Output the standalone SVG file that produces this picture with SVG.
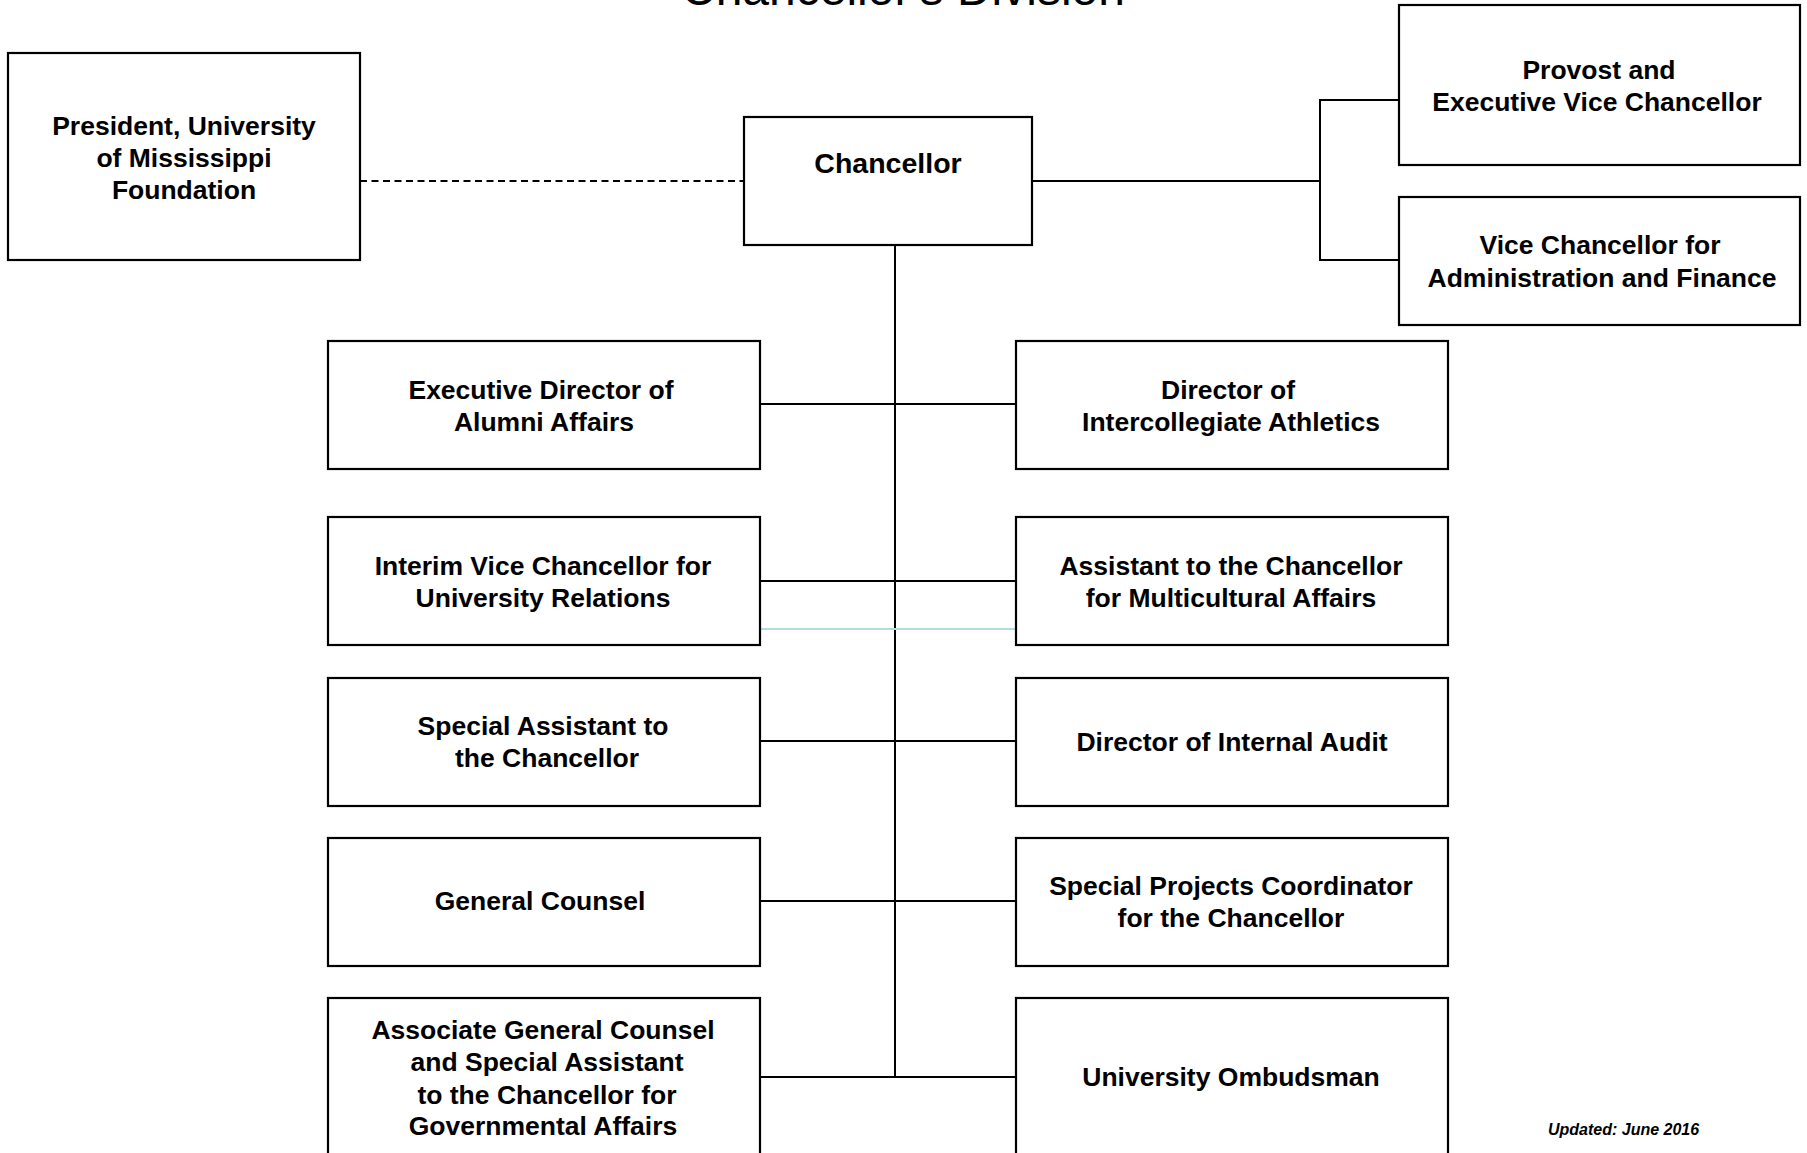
<svg xmlns="http://www.w3.org/2000/svg" width="1807" height="1153" viewBox="0 0 1807 1153">
<style>
.box{fill:#fff;stroke:#000;stroke-width:2.2}
.t{font-family:"Liberation Sans",Arial,sans-serif;font-weight:bold;font-size:26.5px;text-anchor:middle;fill:#000}
.ln{stroke:#000;stroke-width:2;fill:none}
.title{font-family:"Liberation Sans",Arial,sans-serif;font-size:48px;text-anchor:middle;fill:#000}
.upd{font-family:"Liberation Sans",Arial,sans-serif;font-weight:bold;font-style:italic;font-size:16px;fill:#000}
</style>
<rect width="1807" height="1153" fill="#fff"/>
<text class="title" x="903" y="5">Chancellor's Division</text>
<g id="connectors">
<line class="ln" x1="360" y1="181" x2="743" y2="181" stroke-dasharray="7,4.5"/>
<polyline class="ln" points="1031,181 1320,181"/>
<polyline class="ln" points="1399,100 1320,100 1320,260 1399,260"/>
<line class="ln" x1="895" y1="244" x2="895" y2="1077"/>
<line class="ln" x1="759" y1="404" x2="1015" y2="404"/>
<line class="ln" x1="759" y1="581" x2="1015" y2="581"/>
<line x1="760" y1="629" x2="1015" y2="629" stroke="#b4dbe2" stroke-width="2"/>
<line class="ln" x1="759" y1="741" x2="1015" y2="741"/>
<line class="ln" x1="759" y1="901" x2="1015" y2="901"/>
<line class="ln" x1="759" y1="1077" x2="1015" y2="1077"/>
</g>
<g id="president"><rect class="box" x="8" y="53" width="352" height="207"/>
<text class="t" x="184" y="135">President, University</text><text class="t" x="184" y="167">of Mississippi</text><text class="t" x="184" y="199">Foundation</text></g>
<g id="chancellor"><rect class="box" x="744" y="117" width="288" height="128"/>
<text class="t" x="888" y="173" style="font-size:28.5px">Chancellor</text></g>
<g id="provost"><rect class="box" x="1399" y="5" width="401" height="160"/>
<text class="t" x="1599" y="79">Provost and</text><text class="t" x="1597" y="111">Executive Vice Chancellor</text></g>
<g id="vcaf"><rect class="box" x="1399" y="197" width="401" height="128"/>
<text class="t" x="1600" y="254">Vice Chancellor for</text><text class="t" x="1602" y="287">Administration and Finance</text></g>
<g id="alumni"><rect class="box" x="328" y="341" width="432" height="128"/>
<text class="t" x="541" y="399">Executive Director of</text><text class="t" x="544" y="431">Alumni Affairs</text></g>
<g id="athletics"><rect class="box" x="1016" y="341" width="432" height="128"/>
<text class="t" x="1228" y="399">Director of</text><text class="t" x="1231" y="431">Intercollegiate Athletics</text></g>
<g id="univrel"><rect class="box" x="328" y="517" width="432" height="128"/>
<text class="t" x="543" y="575">Interim Vice Chancellor for</text><text class="t" x="543" y="607">University Relations</text></g>
<g id="multicultural"><rect class="box" x="1016" y="517" width="432" height="128"/>
<text class="t" x="1231" y="575">Assistant to the Chancellor</text><text class="t" x="1231" y="607">for Multicultural Affairs</text></g>
<g id="specialasst"><rect class="box" x="328" y="678" width="432" height="128"/>
<text class="t" x="543" y="735">Special Assistant to</text><text class="t" x="547" y="767">the Chancellor</text></g>
<g id="audit"><rect class="box" x="1016" y="678" width="432" height="128"/>
<text class="t" x="1232" y="751">Director of Internal Audit</text></g>
<g id="counsel"><rect class="box" x="328" y="838" width="432" height="128"/>
<text class="t" x="540" y="910">General Counsel</text></g>
<g id="projects"><rect class="box" x="1016" y="838" width="432" height="128"/>
<text class="t" x="1231" y="895">Special Projects Coordinator</text><text class="t" x="1231" y="927">for the Chancellor</text></g>
<g id="assoccounsel"><rect class="box" x="328" y="998" width="432" height="170"/>
<text class="t" x="543" y="1039">Associate General Counsel</text><text class="t" x="547" y="1071">and Special Assistant</text><text class="t" x="547" y="1104">to the Chancellor for</text><text class="t" x="543" y="1135">Governmental Affairs</text></g>
<g id="ombudsman"><rect class="box" x="1016" y="998" width="432" height="170"/>
<text class="t" x="1231" y="1086">University Ombudsman</text></g>
<text class="upd" x="1548" y="1135">Updated: June 2016</text>
</svg>
